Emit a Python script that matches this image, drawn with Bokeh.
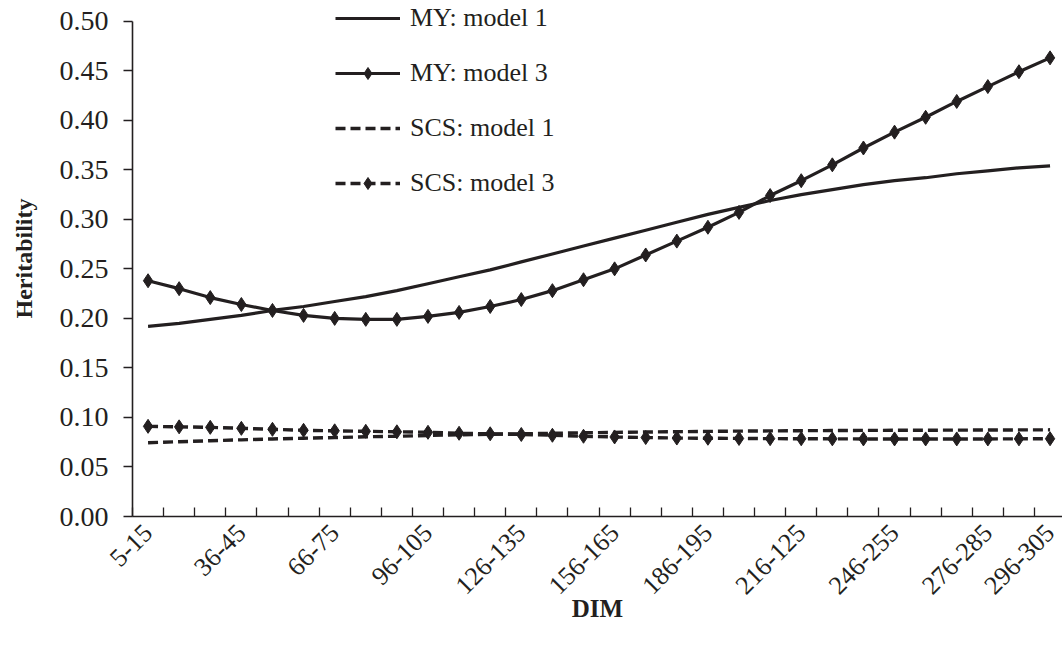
from bokeh.plotting import figure
from bokeh.models import (Range1d, FixedTicker, Legend, LegendItem,
                          PrintfTickFormatter)
from bokeh.embed import file_html
from bokeh.resources import INLINE

# Days-in-milk intervals (30 classes); only some are labelled on the axis
dim_classes = ["5-15", "16-25", "26-35", "36-45", "46-55", "56-65", "66-75",
               "76-85", "86-95", "96-105", "106-115", "116-125", "126-135",
               "136-145", "146-155", "156-165", "166-175", "176-185",
               "186-195", "196-205", "206-215", "216-125", "226-235",
               "236-245", "246-255", "256-265", "266-275", "276-285",
               "286-295", "296-305"]
labelled_idx = [0, 3, 6, 9, 12, 15, 18, 21, 24, 27, 29]

my_model1 = [0.192, 0.195, 0.199, 0.203, 0.208, 0.212, 0.217, 0.222, 0.228,
             0.235, 0.242, 0.249, 0.257, 0.265, 0.273, 0.281, 0.289, 0.297,
             0.305, 0.312, 0.319, 0.325, 0.330, 0.335, 0.339, 0.342, 0.346,
             0.349, 0.352, 0.354]
my_model3 = [0.238, 0.230, 0.221, 0.214, 0.208, 0.203, 0.200, 0.199, 0.199,
             0.202, 0.206, 0.212, 0.219, 0.228, 0.239, 0.250, 0.264, 0.278,
             0.292, 0.307, 0.324, 0.339, 0.355, 0.372, 0.388, 0.403, 0.419,
             0.434, 0.449, 0.463]
scs_model1 = [0.0745, 0.0755, 0.0765, 0.0774, 0.0783, 0.0790, 0.0797, 0.0805,
              0.0810, 0.0818, 0.0825, 0.0830, 0.0835, 0.0840, 0.0845, 0.0849,
              0.0853, 0.0856, 0.0859, 0.0862, 0.0864, 0.0866, 0.0868, 0.0869,
              0.0870, 0.0871, 0.0872, 0.0873, 0.0874, 0.0875]
scs_model3 = [0.0910, 0.0905, 0.0900, 0.0890, 0.0880, 0.0870, 0.0865, 0.0860,
              0.0855, 0.0850, 0.0840, 0.0835, 0.0828, 0.0820, 0.0810, 0.0803,
              0.0797, 0.0792, 0.0790, 0.0788, 0.0786, 0.0785, 0.0784, 0.0783,
              0.0783, 0.0783, 0.0783, 0.0783, 0.0784, 0.0785]

y_ticks = [0.00, 0.05, 0.10, 0.15, 0.20, 0.25, 0.30, 0.35, 0.40, 0.45, 0.50]

INK = "#231f20"
FONT = "Liberation Serif"

x = list(range(len(dim_classes)))

# The frame reaches the top edge so the legend can sit above the 0.50 line;
# the y axis line itself stops at 0.50.
p = figure(width=1062, height=645, output_backend="svg",
           toolbar_location=None, tools="",
           x_range=Range1d(-0.5, 29.4), y_range=Range1d(0, 0.5209),
           min_border_left=132, min_border_right=0,
           min_border_top=0, min_border_bottom=129)
p.outline_line_color = None
p.xgrid.visible = False
p.ygrid.visible = False
p.background_fill_color = "white"
p.border_fill_color = "white"

# Series
r1 = p.line(x, my_model1, line_color=INK, line_width=3.2)
r3l = p.line(x, my_model3, line_color=INK, line_width=3.2)
r3m = p.scatter(x, my_model3, marker="diamond", size=14, fill_color=INK,
                line_color=INK)
s1 = p.line(x, scs_model1, line_color=INK, line_width=3.4, line_dash="10 5")
s3l = p.line(x, scs_model3, line_color=INK, line_width=3.4, line_dash="10 5")
s3m = p.scatter(x, scs_model3, marker="diamond", size=14, fill_color=INK,
                line_color=INK)

# X axis: tick marks on class boundaries, labels on selected classes
xa = p.xaxis[0]
xa.ticker = FixedTicker(ticks=labelled_idx,
                        minor_ticks=[i + 0.5 for i in range(-1, 30)])
xa.major_label_overrides = {i: dim_classes[i] for i in labelled_idx}
xa.major_tick_in = 0
xa.major_tick_out = 0
xa.minor_tick_in = 9
xa.minor_tick_out = 0
xa.minor_tick_line_color = INK
xa.minor_tick_line_width = 1.3
xa.axis_line_color = INK
xa.axis_line_width = 1.6
xa.major_label_orientation = 0.785398
xa.major_label_standoff = 12
xa.major_label_text_font = FONT
xa.major_label_text_font_size = "26px"
xa.major_label_text_color = INK
xa.axis_label = "DIM"
xa.axis_label_text_font = FONT
xa.axis_label_text_font_style = "bold"
xa.axis_label_text_font_size = "25px"
xa.axis_label_text_color = INK
xa.axis_label_standoff = -10

# Y axis
ya = p.yaxis[0]
ya.bounds = (0, 0.5)
ya.ticker = FixedTicker(ticks=y_ticks, minor_ticks=[])
ya.formatter = PrintfTickFormatter(format="%.2f")
ya.major_tick_in = 0
ya.major_tick_out = 9
ya.major_tick_line_color = INK
ya.major_tick_line_width = 1.3
ya.axis_line_color = INK
ya.axis_line_width = 1.6
ya.major_label_standoff = 15
ya.major_label_text_font = FONT
ya.major_label_text_font_size = "28px"
ya.major_label_text_color = INK
ya.axis_label = "Heritability"
ya.axis_label_text_font = FONT
ya.axis_label_text_font_style = "bold"
ya.axis_label_text_font_size = "24px"
ya.axis_label_text_color = INK
ya.axis_label_standoff = 20

legend = Legend(items=[
    LegendItem(label="MY: model 1", renderers=[r1]),
    LegendItem(label="MY: model 3", renderers=[r3l, r3m]),
    LegendItem(label="SCS: model 1", renderers=[s1]),
    LegendItem(label="SCS: model 3", renderers=[s3l, s3m]),
], location=(203, 318))
legend.padding = 0
legend.margin = 0
legend.spacing = 25
legend.glyph_width = 65
legend.glyph_height = 30
legend.label_height = 30
legend.label_standoff = 10
legend.label_text_font = FONT
legend.label_text_font_size = "26px"
legend.label_text_color = INK
legend.border_line_color = None
legend.background_fill_alpha = 0
p.add_layout(legend)

open("out.html", "w").write(file_html(p, INLINE))
